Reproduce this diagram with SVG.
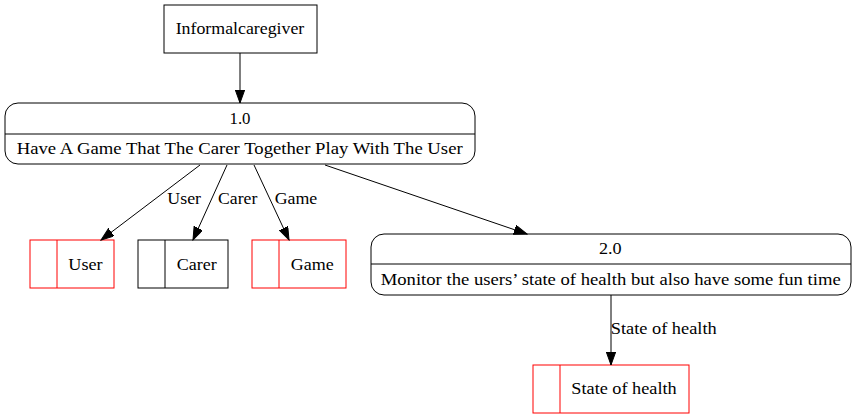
<svg xmlns="http://www.w3.org/2000/svg" width="857" height="419" viewBox="0 0 857 419">
<defs>
<marker id="arr" markerUnits="userSpaceOnUse" markerWidth="14" markerHeight="10" refX="13" refY="4.67" orient="auto" viewBox="0 0 14 10">
<path d="M0,0 L13,4.67 L0,9.33 z" fill="#000" stroke="#000" stroke-width="1"/>
</marker>
</defs>
<style>
text{font-family:"Liberation Serif","Times New Roman",serif;font-size:17.5px;fill:#000}
.c{text-anchor:middle}
.shape{fill:none;stroke:#000;stroke-width:1}
.red{fill:none;stroke:#ff0000;stroke-width:1}
.edge{fill:none;stroke:#000;stroke-width:1;marker-end:url(#arr)}
</style>
<rect width="857" height="419" fill="#fff"/>
<g id="informalcaregiver">
<rect class="shape" x="164" y="5" width="153" height="48"/>
<text class="c" x="240" y="34" textLength="128.6" lengthAdjust="spacingAndGlyphs">Informalcaregiver</text>
</g>
<g id="p1">
<rect class="shape" x="5" y="103" width="470" height="61" rx="13" ry="13"/>
<line class="shape" x1="5" y1="134" x2="475" y2="134"/>
<text class="c" x="240" y="123.5" textLength="21" lengthAdjust="spacingAndGlyphs">1.0</text>
<text class="c" x="239.7" y="153.5" textLength="446" lengthAdjust="spacingAndGlyphs">Have A Game That The Carer Together Play With The User</text>
</g>
<g id="p2">
<rect class="shape" x="371" y="234" width="480" height="61" rx="13" ry="13"/>
<line class="shape" x1="371" y1="264" x2="851" y2="264"/>
<text class="c" x="610.3" y="253.5" textLength="22.7" lengthAdjust="spacingAndGlyphs">2.0</text>
<text class="c" x="610.7" y="284.5" textLength="460" lengthAdjust="spacingAndGlyphs">Monitor the users’ state of health but also have some fun time</text>
</g>
<g id="store-user">
<rect class="red" x="30" y="240" width="84" height="48"/>
<line class="red" x1="57" y1="240" x2="57" y2="288"/>
<text class="c" x="85.5" y="270" textLength="34.3" lengthAdjust="spacingAndGlyphs">User</text>
</g>
<g id="store-carer">
<rect class="shape" x="138" y="240" width="90" height="48"/>
<line class="shape" x1="165" y1="240" x2="165" y2="288"/>
<text class="c" x="196.7" y="270" textLength="40" lengthAdjust="spacingAndGlyphs">Carer</text>
</g>
<g id="store-game">
<rect class="red" x="252" y="240" width="94" height="48"/>
<line class="red" x1="279" y1="240" x2="279" y2="288"/>
<text class="c" x="312.2" y="270" textLength="43" lengthAdjust="spacingAndGlyphs">Game</text>
</g>
<g id="store-health">
<rect class="red" x="533" y="365" width="156" height="48"/>
<line class="red" x1="560" y1="365" x2="560" y2="413"/>
<text class="c" x="624" y="393.5" textLength="105.3" lengthAdjust="spacingAndGlyphs">State of health</text>
</g>
<g id="connectors">
<line class="edge" x1="240" y1="53" x2="240" y2="103"/>
<line class="edge" x1="200" y1="165" x2="101" y2="240"/>
<text x="167.3" y="203.7" textLength="33.7" lengthAdjust="spacingAndGlyphs">User</text>
<line class="edge" x1="227" y1="165" x2="193" y2="240"/>
<text x="218" y="203.7" textLength="39.3" lengthAdjust="spacingAndGlyphs">Carer</text>
<line class="edge" x1="254" y1="165" x2="289" y2="240"/>
<text x="274.7" y="203.7" textLength="42.6" lengthAdjust="spacingAndGlyphs">Game</text>
<line class="edge" x1="325" y1="165" x2="527" y2="234"/>
<line class="edge" x1="611" y1="295" x2="611" y2="365"/>
<text x="610.7" y="334.3" textLength="106" lengthAdjust="spacingAndGlyphs">State of health</text>
</g>
</svg>
